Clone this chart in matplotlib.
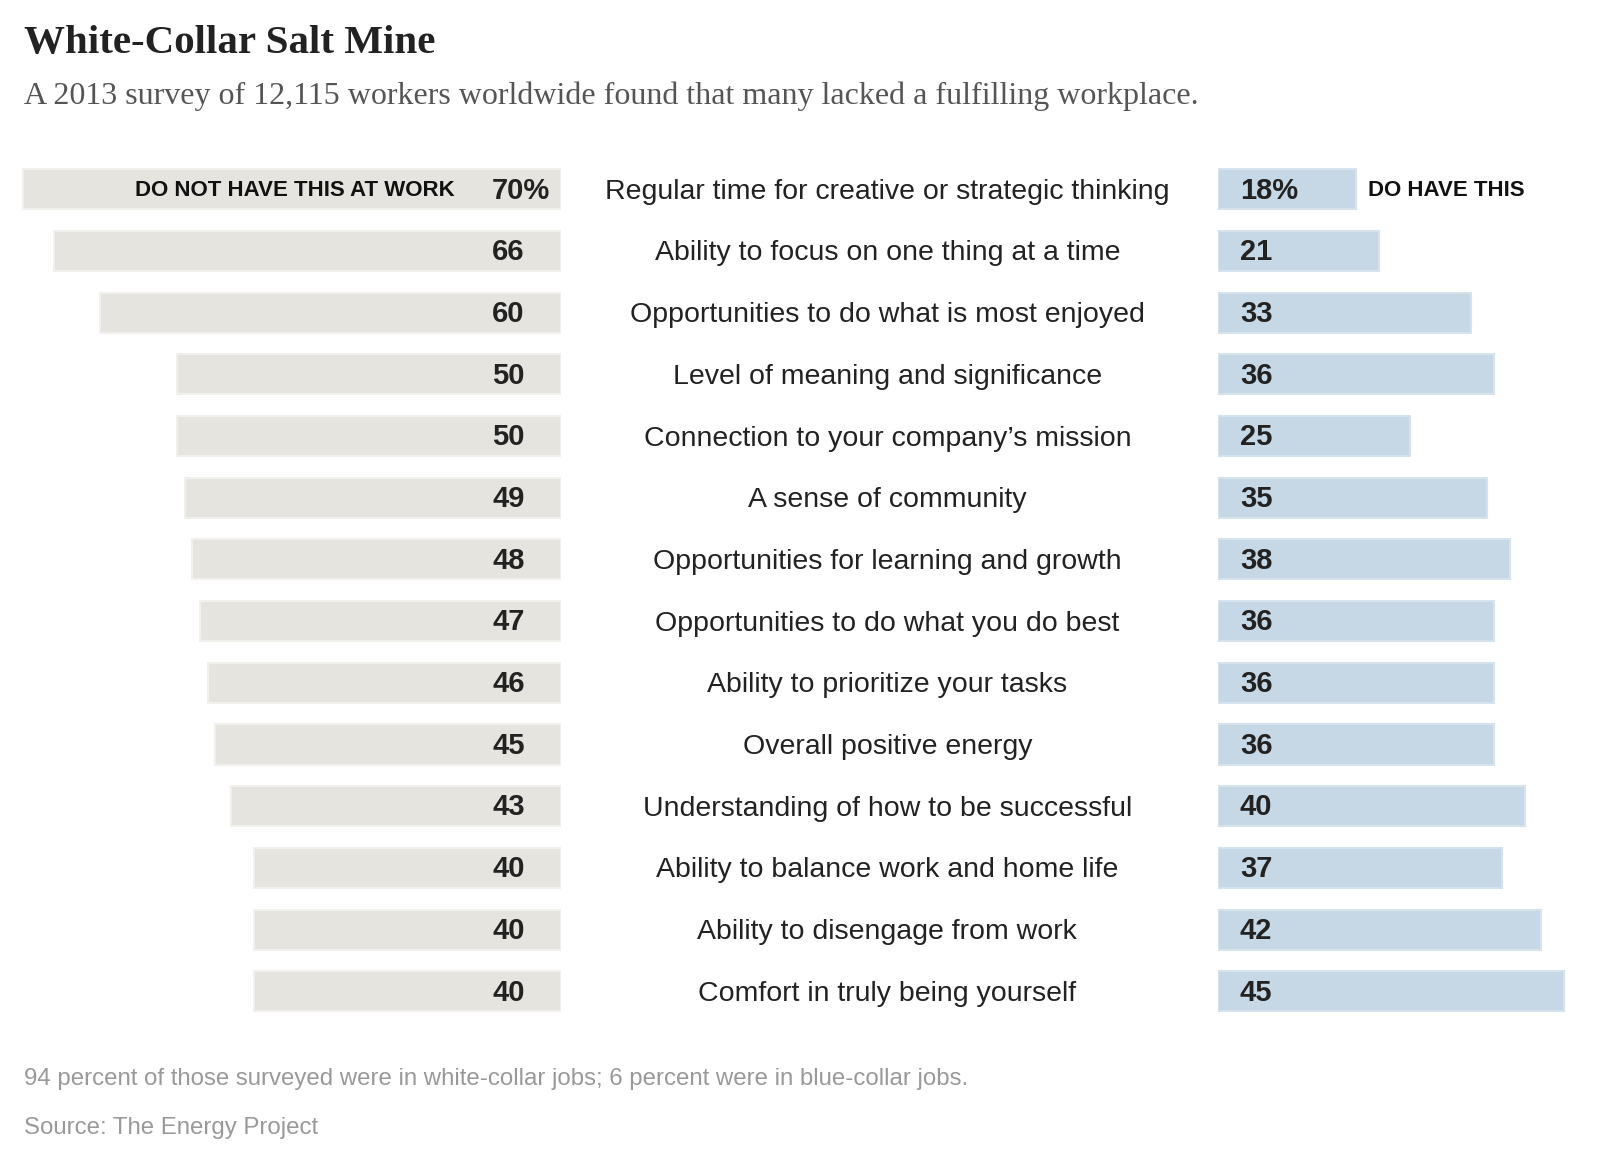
import matplotlib
matplotlib.use("Agg")
import matplotlib.pyplot as plt
import matplotlib.transforms as mtrans

# data (percent of workers)
items = [
    "Regular time for creative or strategic thinking",
    "Ability to focus on one thing at a time",
    "Opportunities to do what is most enjoyed",
    "Level of meaning and significance",
    "Connection to your company\u2019s mission",
    "A sense of community",
    "Opportunities for learning and growth",
    "Opportunities to do what you do best",
    "Ability to prioritize your tasks",
    "Overall positive energy",
    "Understanding of how to be successful",
    "Ability to balance work and home life",
    "Ability to disengage from work",
    "Comfort in truly being yourself",
]
do_not_have = [70, 66, 60, 50, 50, 49, 48, 47, 46, 45, 43, 40, 40, 40]
do_have = [18, 21, 33, 36, 25, 35, 38, 36, 36, 36, 40, 37, 42, 45]

# layout measured on the reference (its preview is ~1565 x 1130)
WR, HR = 1565, 1130
PX_PER_UNIT = 7.52
LEFT_ZERO = 549
RIGHT_ZERO = 1191
TOP, BOT = 155, 1000

sans = ["Liberation Sans", "DejaVu Sans"]
serif = ["Liberation Serif", "DejaVu Serif"]

fig = plt.figure(figsize=(16, 11.55), dpi=100)
fig.patch.set_facecolor("white")

bottom = 1 - BOT / HR
height = (BOT - TOP) / HR
axl = fig.add_axes([0, bottom, LEFT_ZERO / WR, height])
axr = fig.add_axes([RIGHT_ZERO / WR, bottom, (WR - RIGHT_ZERO) / WR, height])

n = len(items)
ypos = list(range(n))

axl.barh(ypos, do_not_have, height=0.65, color="#e6e4df", edgecolor="#f1f0ec", linewidth=1.5)
axr.barh(ypos, do_have, height=0.65, color="#c6d8e6", edgecolor="#d6e3ee", linewidth=1.5)

axl.set_xlim(LEFT_ZERO / PX_PER_UNIT, 0)
axr.set_xlim(0, (WR - RIGHT_ZERO) / PX_PER_UNIT)
for ax in (axl, axr):
    ax.set_ylim(n - 0.5, -0.5)
    ax.axis("off")

for i in ypos:
    lab_l = f"{do_not_have[i]}%" if i == 0 else str(do_not_have[i])
    lab_r = f"{do_have[i]}%" if i == 0 else str(do_have[i])
    axl.text(9.0, i + 0.02, lab_l, ha="left", va="center", fontsize=21, fontweight="bold",
             color="#222222", family=sans)
    axr.text(2.9, i + 0.02, lab_r, ha="left", va="center", fontsize=21, fontweight="bold",
             color="#222222", family=sans)

# category labels in the middle column
tr = mtrans.blended_transform_factory(fig.transFigure, axl.transData)
for i, name in enumerate(items):
    axl.text(868 / WR, i + 0.04, name, transform=tr, ha="center", va="center",
             fontsize=20.5, color="#222222", family=sans, clip_on=False)

axl.text(13.8, 0.02, "DO NOT HAVE THIS AT WORK", ha="right", va="center", fontsize=16,
         fontweight="bold", color="#111111", family=sans)
axr.text(19.5, 0.02, "DO HAVE THIS", ha="left", va="center", fontsize=16,
         fontweight="bold", color="#111111", family=sans, clip_on=False)

fig.text(23 / WR, 1 - 52 / HR, "White-Collar Salt Mine", ha="left", va="baseline",
         fontsize=29.5, fontweight="bold", color="#222222", family=serif)
fig.text(23 / WR, 1 - 102 / HR,
         "A 2013 survey of 12,115 workers worldwide found that many lacked a fulfilling workplace.",
         ha="left", va="baseline", fontsize=23, color="#555555", family=serif)

fig.text(23 / WR, 1 - 1062 / HR,
         "94 percent of those surveyed were in white-collar jobs; 6 percent were in blue-collar jobs.",
         ha="left", va="baseline", fontsize=17.3, color="#999999", family=sans)
fig.text(23 / WR, 1 - 1109 / HR, "Source: The Energy Project", ha="left", va="baseline",
         fontsize=17.3, color="#999999", family=sans)

fig.savefig("out.png", dpi=100, facecolor="white")
